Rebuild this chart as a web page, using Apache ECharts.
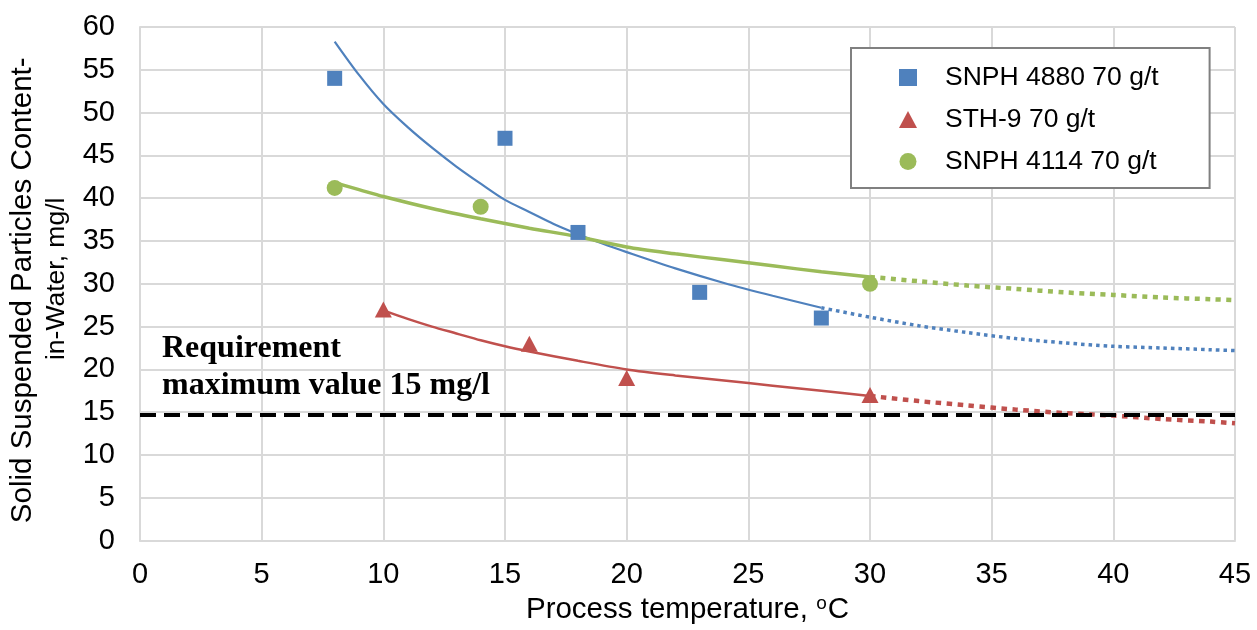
<!DOCTYPE html>
<html>
<head>
<meta charset="utf-8">
<script src="https://cdn.jsdelivr.net/npm/echarts@6/dist/echarts.min.js"></script>
<style>
html,body{margin:0;padding:0;background:#fff;}
#chart{width:1257px;height:630px;}
</style>
</head>
<body>
<div id="chart"></div>
<script>
// Measured points
const snph4880X = [8, 15, 18, 23, 28];
const snph4880Y = [54, 47, 36, 29, 26];
const sth9X = [10, 16, 20, 30];
const sth9Y = [27, 23, 19, 17];
const snph4114X = [8, 14, 30];
const snph4114Y = [41.2, 39, 30];

// Trend lines (solid fitted part, dotted forecast part)
const blueTrendX = [8, 9, 10, 11, 12, 13, 14, 15, 16, 17, 18, 19, 20, 22, 24, 26, 28];
const blueTrendY = [58.3, 54.4, 51.0, 48.3, 45.9, 43.7, 41.7, 39.8, 38.4, 37.0, 35.8, 34.7, 33.7, 31.8, 30.1, 28.6, 27.2];
const blueFcX = [28, 30, 32, 34, 36, 38, 40, 42, 44, 45];
const blueFcY = [27.2, 26.1, 25.1, 24.3, 23.6, 23.1, 22.7, 22.5, 22.3, 22.2];

const greenTrendX = [8, 9, 10, 12, 14, 16, 18, 20, 22, 24, 26, 28, 30];
const greenTrendY = [41.8, 41.0, 40.2, 38.8, 37.6, 36.5, 35.5, 34.3, 33.5, 32.8, 32.1, 31.4, 30.8];
const greenFcX = [30, 32, 34, 36, 38, 40, 42, 44, 45];
const greenFcY = [30.8, 30.3, 29.8, 29.4, 29.0, 28.7, 28.4, 28.2, 28.1];

const redTrendX = [10, 11, 12, 13, 14, 15, 16, 18, 20, 22, 24, 26, 28, 30];
const redTrendY = [26.9, 25.9, 25.0, 24.2, 23.4, 22.7, 22.1, 21.0, 20.0, 19.3, 18.7, 18.1, 17.5, 16.9];
const redFcX = [30, 32, 34, 36, 38, 40, 42, 44, 45];
const redFcY = [16.9, 16.3, 15.8, 15.3, 14.9, 14.6, 14.2, 13.9, 13.7];

const requirementValue = 14.7;
const seriesNames = ['SNPH 4880 70 g/t', 'STH-9 70 g/t', 'SNPH 4114 70 g/t'];

const zip = (xs, ys) => xs.map((x, i) => [x, ys[i]]);

const BLUE = '#4f81bd', RED = '#c0504d', GREEN = '#9bbb59';
const FONT = "'Liberation Sans', Arial, sans-serif";

const chart = echarts.init(document.getElementById('chart'), null, {renderer: 'canvas'});

function trend(data, color, width, dash) {
  return {
    type: 'line', data: data, showSymbol: false, symbol: 'none', silent: true,
    smooth: 0.3, z: 2,
    lineStyle: {color: color, width: width, type: dash ? dash : 'solid', cap: 'butt'},
    emphasis: {disabled: true}
  };
}

const option = {
  animation: false,
  backgroundColor: '#fff',
  grid: {left: 139, right: 22, top: 27, bottom: 88, containLabel: false},
  xAxis: {
    type: 'value', min: 0, max: 45, interval: 5,
    name: 'Process temperature, {sup|o}C',
    nameLocation: 'middle', nameGap: 53,
    nameTextStyle: {
      fontFamily: FONT, fontSize: 29.5, color: '#000',
      rich: {sup: {fontFamily: FONT, fontSize: 19, color: '#000', verticalAlign: 'top', padding: [0, 1, 12, 0]}}
    },
    axisLine: {show: true, lineStyle: {color: '#d9d9d9', width: 2}},
    axisTick: {show: false},
    axisLabel: {fontFamily: FONT, fontSize: 29, color: '#000', margin: 20},
    splitLine: {show: true, lineStyle: {color: '#d9d9d9', width: 2}}
  },
  yAxis: {
    type: 'value', min: 0, max: 60, interval: 5,
    name: '{a|Solid Suspended Particles Content-}\n{b|in-Water, mg/l}',
    nameLocation: 'middle', nameGap: 66, nameRotate: 90,
    nameTextStyle: {
      fontFamily: FONT, fontSize: 28, color: '#000', align: 'center',
      rich: {
        a: {fontFamily: FONT, fontSize: 29.5, color: '#000', lineHeight: 34, padding: [0, 13, 0, 0]},
        b: {fontFamily: FONT, fontSize: 26.5, color: '#000', lineHeight: 34, padding: [0, 0, 0, 10]}
      }
    },
    axisLine: {show: true, lineStyle: {color: '#d9d9d9', width: 2}},
    axisTick: {show: false},
    axisLabel: {fontFamily: FONT, fontSize: 29, color: '#000', margin: 25},
    splitLine: {show: true, lineStyle: {color: '#d9d9d9', width: 2}}
  },
  legend: {
    data: seriesNames,
    orient: 'vertical',
    left: 851, top: 48,
    padding: [16, 51, 13, 48],
    itemWidth: 18, itemHeight: 17, itemGap: 15,
    backgroundColor: '#fff',
    borderColor: '#808080', borderWidth: 2, borderRadius: 0,
    formatter: function (n) { return '{p|}' + n; },
    textStyle: {
      fontFamily: FONT, fontSize: 26.5, color: '#000', lineHeight: 26,
      rich: {p: {width: 23}}
    },
    selectedMode: false
  },
  graphic: [{
    type: 'text', left: 162, top: 330, z: 10, silent: true,
    style: {
      text: 'Requirement\nmaximum value 15 mg/l',
      font: "bold 32px 'Liberation Serif', 'Times New Roman', serif",
      fill: '#000', lineHeight: 37
    }
  }],
  series: [
    {
      name: 'requirement', type: 'line', data: [], silent: true, z: 3,
      markLine: {
        silent: true, symbol: ['none', 'none'], label: {show: false},
        lineStyle: {color: '#000', width: 4, type: [16, 8]},
        emphasis: {disabled: true},
        data: [{yAxis: requirementValue}]
      }
    },
    trend(zip(blueTrendX, blueTrendY), BLUE, 2.2),
    trend(zip(blueFcX, blueFcY), BLUE, 3.5, [3.5, 4]),
    trend(zip(greenTrendX, greenTrendY), GREEN, 3.5),
    trend(zip(greenFcX, greenFcY), GREEN, 4.5, [5, 5.5]),
    trend(zip(redTrendX, redTrendY), RED, 2.5),
    trend(zip(redFcX, redFcY), RED, 4.5, [5.5, 5.5]),
    {
      name: seriesNames[0], type: 'scatter', data: zip(snph4880X, snph4880Y),
      symbol: 'rect', symbolSize: 15, itemStyle: {color: BLUE, opacity: 1}, z: 5
    },
    {
      name: seriesNames[1], type: 'scatter', data: zip(sth9X, sth9Y),
      symbol: 'triangle', symbolSize: [17, 16], itemStyle: {color: RED, opacity: 1}, z: 5
    },
    {
      name: seriesNames[2], type: 'scatter', data: zip(snph4114X, snph4114Y),
      symbol: 'circle', symbolSize: 16, itemStyle: {color: GREEN, opacity: 1}, z: 5
    }
  ]
};
chart.setOption(option);
</script>
</body>
</html>
